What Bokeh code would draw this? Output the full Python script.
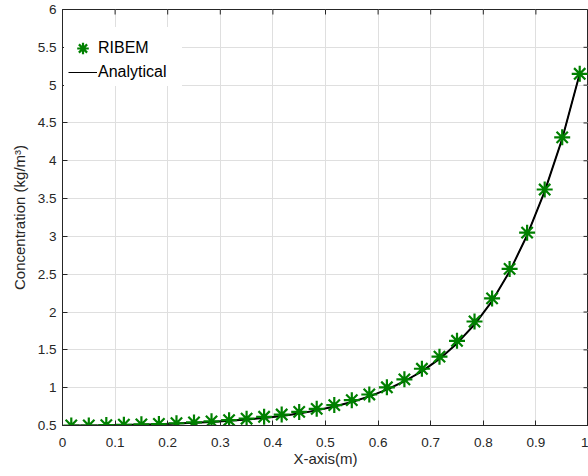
import math
from bokeh.plotting import figure
from bokeh.models import (FixedTicker, Legend, LegendItem,
                          ColumnDataSource, Range1d)
from bokeh.embed import file_html
from bokeh.resources import INLINE

# Sample positions along the domain (cell centres)
x_pos = [0.0167, 0.05, 0.0833, 0.1167, 0.15, 0.1833, 0.2167, 0.25, 0.2833, 0.3167,
         0.35, 0.3833, 0.4167, 0.45, 0.4833, 0.5167, 0.55, 0.5833, 0.6167, 0.65,
         0.6833, 0.7167, 0.75, 0.7833, 0.8167, 0.85, 0.8833, 0.9167, 0.95, 0.9833]

# RIBEM numerical concentration
ribem_c = [0.50, 0.50, 0.505, 0.51, 0.515, 0.52, 0.53, 0.54, 0.555, 0.57,
           0.59, 0.615, 0.645, 0.68, 0.72, 0.77, 0.835, 0.91, 1.005, 1.11,
           1.25, 1.41, 1.62, 1.875, 2.18, 2.57, 3.05, 3.62, 4.31, 5.15]

# Analytical concentration
analytical_c = [0.50, 0.50, 0.503, 0.507, 0.512, 0.518, 0.525, 0.535, 0.547, 0.562,
                0.58, 0.60, 0.627, 0.66, 0.70, 0.75, 0.81, 0.885, 0.975, 1.085,
                1.215, 1.38, 1.585, 1.835, 2.145, 2.535, 3.015, 3.595, 4.29, 5.15]

x_ticks = [0, 0.1, 0.2, 0.3, 0.4, 0.5, 0.6, 0.7, 0.8, 0.9, 1]
x_tick_labels = ["0", "0.1", "0.2", "0.3", "0.4", "0.5", "0.6", "0.7", "0.8", "0.9", "1"]
y_ticks = [0.5, 1, 1.5, 2, 2.5, 3, 3.5, 4, 4.5, 5, 5.5, 6]
y_tick_labels = ["0.5", "1", "1.5", "2", "2.5", "3", "3.5", "4", "4.5", "5", "5.5", "6"]

FONT = "Liberation Sans"
AX = "#262626"

p = figure(width=588, height=476, output_backend="svg", toolbar_location=None,
           x_range=Range1d(x_ticks[0], x_ticks[-1]),
           y_range=Range1d(y_ticks[0], y_ticks[-1]),
           min_border_left=62, min_border_right=0, min_border_top=9,
           min_border_bottom=51, x_axis_label="X-axis(m)",
           y_axis_label="Concentration (kg/m³)")
p.background_fill_color = "white"
p.border_fill_color = "white"
p.outline_line_color = AX
p.outline_line_width = 1

src_num = ColumnDataSource(dict(x=x_pos, y=ribem_c))
src_ana = ColumnDataSource(dict(x=x_pos, y=analytical_c))

# thin copy of the analytical curve, used for the legend swatch
leg_line = p.line("x", "y", source=src_ana, line_color="black", line_width=1)
line_r = p.line("x", "y", source=src_ana, line_color="black", line_width=2)
pts_r = p.scatter("x", "y", source=src_num, marker="asterisk", size=16,
                  line_color="#008000", line_width=2.2)

# grid
for g in (p.xgrid[0], p.ygrid[0]):
    g.grid_line_color = "#dfdfdf"
    g.grid_line_width = 1
p.xgrid[0].ticker = FixedTicker(ticks=x_ticks)
p.ygrid[0].ticker = FixedTicker(ticks=y_ticks)

def style_axis(ax, ticks, labels):
    ax.ticker = FixedTicker(ticks=ticks)
    ax.major_label_overrides = {t: l for t, l in zip(ticks, labels)}
    ax.major_tick_in = 5
    ax.major_tick_out = 0
    ax.minor_tick_line_color = None
    ax.major_tick_line_color = AX
    ax.axis_line_color = AX
    ax.major_label_text_font = FONT
    ax.major_label_text_color = AX
    ax.major_label_text_font_size = "13.5px"
    ax.axis_label_text_font = FONT
    ax.axis_label_text_font_size = "15px"
    ax.axis_label_text_font_style = "normal"
    ax.axis_label_text_color = AX

xa = p.xaxis[0]
ya = p.yaxis[0]
style_axis(xa, x_ticks, x_tick_labels)
style_axis(ya, y_ticks, y_tick_labels)
xa.major_label_standoff = 12
ya.major_label_standoff = 6
xa.axis_label_standoff = 0
ya.axis_label_standoff = 7

# inward tick marks along the top and right edges of the box
# (dash markers centred on the edge; the frame clips their outer half)
p.scatter(x=x_ticks, y=[y_ticks[-1]] * len(x_ticks), marker="dash", size=10,
          angle=math.pi / 2, line_color=AX, line_width=1)
p.scatter(x=[x_ticks[-1]] * len(y_ticks), y=y_ticks, marker="dash", size=10,
          line_color=AX, line_width=1)

def make_legend(item, loc, glyph_h):
    lg = Legend(items=[item], location=loc)
    lg.label_text_font = FONT
    lg.label_text_font_size = "16px"
    lg.label_text_color = "black"
    lg.border_line_alpha = 0
    lg.background_fill_color = "white"
    lg.background_fill_alpha = 1
    lg.padding = 4
    lg.spacing = 0
    lg.glyph_width = 29
    lg.glyph_height = glyph_h
    lg.label_height = 20
    lg.label_width = 80
    lg.label_standoff = 1
    lg.margin = 0
    return lg

# marker entry gets a taller swatch so the asterisk keeps its size
leg_pts = make_legend(LegendItem(label="RIBEM", renderers=[pts_r]), (2, 356), 34)
leg_ana = make_legend(LegendItem(label="Analytical", renderers=[leg_line]), (2, 339), 20)
p.add_layout(leg_pts, "center")
p.add_layout(leg_ana, "center")

open("out.html", "w").write(file_html(p, INLINE))
